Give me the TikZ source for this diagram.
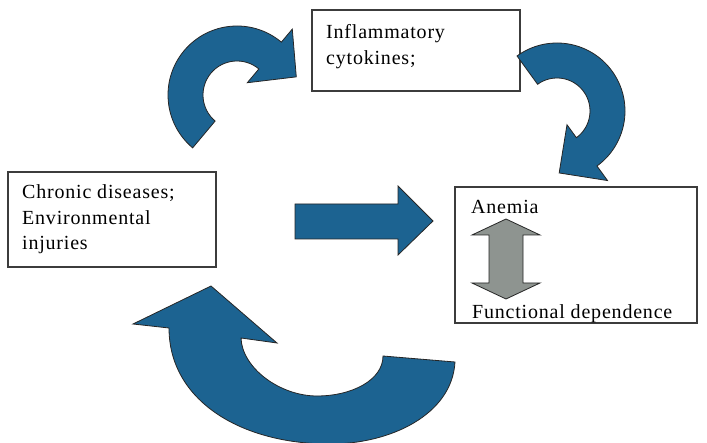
\documentclass[tikz,border=0pt]{standalone}
\usepackage{fontspec}
\setmainfont{Liberation Serif}[LetterSpace=4]
\usetikzlibrary{calc}
\definecolor{arrowblue}{RGB}{28,99,145}
\definecolor{arrowgray}{RGB}{142,148,144}
\definecolor{boxline}{RGB}{60,60,60}
\begin{document}
\begin{tikzpicture}[x=1pt,y=1pt,yscale=-1,
  box/.style={draw=boxline, line width=1.2pt, fill=white, inner sep=0pt, outer sep=0pt, anchor=north west},
  label/.style={anchor=base west, inner sep=0pt, font=\fontsize{20}{26}\selectfont},
  bluearrow/.style={fill=arrowblue, draw=black!85, line width=0.8pt, line join=miter},
  grayarrow/.style={fill=arrowgray, draw=black!85, line width=0.8pt}]
\useasboundingbox (0,0) rectangle (707,443);
\clip (0,0) rectangle (707,443);
% boxes
\node[box, minimum width=208pt, minimum height=81pt] (infl) at (312,10) {};
\node[box, minimum width=208pt, minimum height=95pt] (chronic) at (8,172) {};
\node[box, minimum width=242pt, minimum height=136pt] (anemia) at (455,187) {};
% texts
\node[label] (t1) at (326,39) {Inflammatory};
\node[label] (t2) at (326,65) {cytokines;};
\node[label] (c1) at (22,199) {Chronic diseases;};
\node[label] (c2) at (22,225) {Environmental};
\node[label] (c3) at (22,250) {injuries};
\node[label] (a1) at (471,214) {Anemia};
\node[label] (a2) at (472,319) {Functional dependence};
% straight arrow
\draw[bluearrow] (295,204) -- (398,204) -- (398,186) -- (433,221) -- (398,255) -- (398,239) -- (295,239) -- cycle;
% gray double arrow
\draw[grayarrow] (506,219) -- (540,235) -- (523,235) -- (523,283) -- (540,283) -- (506,299) -- (472,283) -- (489,283) -- (489,235) -- (472,235) -- cycle;
% curved arrow top-left
\coordinate (k1) at (237,95);
\draw[bluearrow] ($(k1)+(130:69)$) arc[start angle=130, end angle=310, radius=69]
  -- ($(k1)+(310:86)$) -- ($(k1)+(343:62)$) -- ($(k1)+(310:16)$) -- ($(k1)+(310:34)$)
  arc[start angle=310, end angle=130, radius=34] -- cycle;
% curved arrow top-right
\coordinate (k2) at (557,111);
\draw[bluearrow] ($(k2)+(234:68)$) arc[start angle=234, end angle=414, radius=68]
  -- ($(k2)+(54:86)$) -- ($(k2)+(88:62)$) -- ($(k2)+(54:17)$) -- ($(k2)+(54:33)$)
  arc[start angle=414, end angle=234, radius=33] -- cycle;
% curved arrow bottom
\coordinate (o1) at (455,362);
\coordinate (o2) at (330,444);
\coordinate (o3) at (169,328);
\coordinate (i1) at (241,338);
\coordinate (i2) at (317,396);
\coordinate (i3) at (383,356);
\draw[bluearrow] (o1) .. controls (452,415) and (390,444) .. (o2)
  .. controls (240,444) and (169,400) .. (o3)
  -- (133,324) -- (211,286) -- (277,343) -- (i1)
  .. controls (242,368) and (280,396) .. (i2)
  .. controls (352,396) and (383,380) .. (i3)
  -- cycle;
\end{tikzpicture}
\end{document}
